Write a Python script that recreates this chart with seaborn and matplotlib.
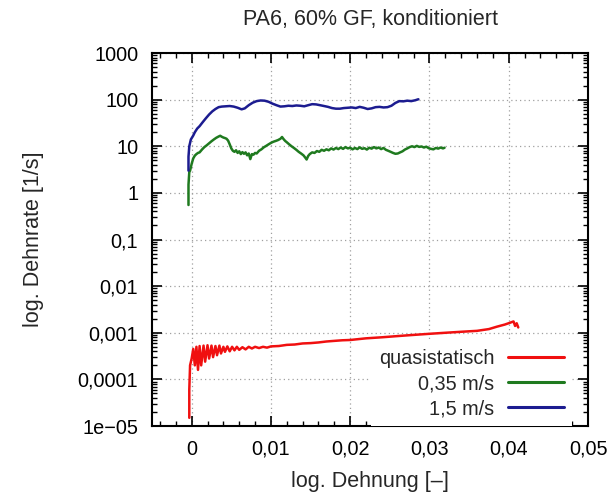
import matplotlib
matplotlib.use("Agg")
import matplotlib.pyplot as plt
from matplotlib.ticker import FixedLocator, FixedFormatter, LogLocator, MultipleLocator, NullFormatter
import seaborn as sns
import pandas as pd

# series (strain, strain rate)
quasi_x = [-0.0003, -0.0003, -0.0002, 0.0000, 0.0002, 0.0004, 0.0006, 0.0008, 0.0010, 0.0012,
           0.0015, 0.0017, 0.0020, 0.0022, 0.0025, 0.0027, 0.0030, 0.0032, 0.0035, 0.0037,
           0.0040, 0.0042, 0.0045, 0.0048, 0.0051, 0.0054, 0.0057, 0.0060, 0.0064, 0.0068,
           0.0072, 0.0076, 0.0080, 0.0085, 0.0090, 0.0095, 0.0100, 0.0110, 0.0120, 0.0130,
           0.0140, 0.0150, 0.0160, 0.0170, 0.0180, 0.0190, 0.0200, 0.0220, 0.0240, 0.0260,
           0.0280, 0.0300, 0.0320, 0.0340, 0.0360, 0.0375, 0.0385, 0.0395, 0.0402, 0.0406,
           0.0408, 0.0410, 0.0412]
quasi_y = [1.5e-5, 6e-5, 2.0e-4, 2.8e-4, 4.5e-4, 2.0e-4, 5.0e-4, 1.6e-4, 5.2e-4, 2.0e-4,
           5.3e-4, 2.4e-4, 5.4e-4, 2.8e-4, 5.3e-4, 3.0e-4, 5.2e-4, 3.3e-4, 5.3e-4, 3.6e-4,
           5.0e-4, 3.9e-4, 5.1e-4, 4.0e-4, 5.0e-4, 4.2e-4, 5.0e-4, 4.3e-4, 4.9e-4, 4.4e-4,
           5.0e-4, 4.6e-4, 5.0e-4, 4.7e-4, 5.0e-4, 4.8e-4, 5.1e-4, 5.2e-4, 5.5e-4, 5.6e-4,
           5.9e-4, 6.0e-4, 6.2e-4, 6.5e-4, 6.7e-4, 6.9e-4, 7.0e-4, 7.6e-4, 8.0e-4, 8.5e-4,
           9.0e-4, 9.5e-4, 1.0e-3, 1.05e-3, 1.1e-3, 1.2e-3, 1.35e-3, 1.5e-3, 1.65e-3, 1.75e-3,
           1.4e-3, 1.6e-3, 1.3e-3]

v035_x = [-0.0004, -0.0004, -0.0003, -0.0002, 0.0000, 0.0002, 0.0004, 0.0006, 0.0008, 0.0010,
          0.0013, 0.0016, 0.0019, 0.0022, 0.0025, 0.0028, 0.0031, 0.0034, 0.0036, 0.0038,
          0.0040, 0.0042, 0.0044, 0.0046, 0.0048, 0.0050, 0.0052, 0.0054, 0.0056, 0.0058,
          0.0060, 0.0062, 0.0064, 0.0066, 0.0068, 0.0070, 0.0072, 0.0074, 0.0076, 0.0078,
          0.0080, 0.0082, 0.0085, 0.0088, 0.0091, 0.0094, 0.0097, 0.0100, 0.0103, 0.0106,
          0.0109, 0.0112, 0.0114, 0.0116, 0.0118, 0.0120, 0.0123, 0.0126, 0.0129, 0.0132,
          0.0135, 0.0138, 0.0141, 0.0143, 0.0145, 0.0147, 0.0149, 0.0152, 0.0155, 0.0158,
          0.0161, 0.0164, 0.0167, 0.0170, 0.0173, 0.0176, 0.0179, 0.0182, 0.0185, 0.0188,
          0.0191, 0.0194, 0.0197, 0.0200, 0.0203, 0.0206, 0.0209, 0.0212, 0.0215, 0.0218,
          0.0221, 0.0224, 0.0227, 0.0230, 0.0233, 0.0236, 0.0239, 0.0242, 0.0245, 0.0248,
          0.0251, 0.0254, 0.0257, 0.0260, 0.0263, 0.0266, 0.0269, 0.0272, 0.0275, 0.0278,
          0.0281, 0.0284, 0.0287, 0.0290, 0.0293, 0.0296, 0.0299, 0.0302, 0.0305, 0.0308,
          0.0311, 0.0314, 0.0317, 0.0319]
v035_y = [0.55, 1.5, 2.8, 3.0, 4.2, 5.5, 6.3, 6.8, 7.2, 7.4,
          8.5, 9.6, 10.5, 11.6, 12.8, 14.0, 15.2, 16.2, 16.8, 16.0,
          15.4, 15.0, 14.5, 13.2, 11.0, 9.0, 8.0, 7.6, 8.2, 7.2,
          7.8, 6.8, 7.5, 6.9, 7.4, 6.4, 7.0, 5.3, 6.8, 6.6,
          7.2, 7.0, 8.0, 8.6, 9.5, 10.2, 11.0, 11.8, 12.5, 13.0,
          13.6, 14.5, 15.8, 14.2, 13.0, 12.2, 11.0, 10.0, 9.2, 8.4,
          7.6, 7.0, 6.4, 5.8, 5.2, 6.2, 6.8, 7.4, 7.2, 7.9,
          7.6, 8.4, 8.0, 8.6, 8.2, 9.0, 8.5, 9.2, 8.7, 9.4,
          8.8, 9.6, 9.0, 9.3, 8.6, 9.2, 8.7, 9.5, 8.8, 9.1,
          8.5, 9.3, 8.9, 9.6, 9.0, 9.4, 8.7, 9.2, 8.4, 8.0,
          7.6, 7.2, 6.9, 7.0, 7.4, 7.8, 8.5, 9.0, 9.6, 10.0,
          9.6, 10.2, 9.7, 9.9, 9.4, 9.8, 9.1, 8.8, 8.6, 9.2,
          8.9, 9.4, 9.0, 9.3]

v15_x = [-0.0004, -0.0004, -0.0003, -0.0001, 0.0002, 0.0004, 0.0007, 0.0010, 0.0014, 0.0018,
         0.0022, 0.0026, 0.0030, 0.0034, 0.0038, 0.0043, 0.0048, 0.0053, 0.0058, 0.0063,
         0.0067, 0.0072, 0.0077, 0.0082, 0.0087, 0.0092, 0.0097, 0.0102, 0.0107, 0.0112,
         0.0117, 0.0122, 0.0127, 0.0132, 0.0137, 0.0142, 0.0147, 0.0152, 0.0157, 0.0162,
         0.0167, 0.0172, 0.0177, 0.0182, 0.0187, 0.0192, 0.0197, 0.0202, 0.0207, 0.0212,
         0.0217, 0.0222, 0.0227, 0.0232, 0.0237, 0.0242, 0.0247, 0.0252, 0.0257, 0.0262,
         0.0267, 0.0272, 0.0277, 0.0282, 0.0286]
v15_y = [3.0, 6.0, 10.0, 14.0, 17.0, 20.0, 24.0, 27.0, 33.0, 40.0,
         48.0, 56.0, 63.0, 69.0, 71.0, 72.0, 73.0, 71.0, 67.0, 62.0,
         65.0, 76.0, 86.0, 93.0, 96.0, 95.0, 90.0, 82.0, 76.0, 71.0,
         72.0, 74.0, 73.0, 75.0, 74.0, 72.0, 76.0, 80.0, 79.0, 76.0,
         73.0, 70.0, 66.0, 64.0, 64.0, 66.0, 67.0, 68.0, 66.0, 70.0,
         67.0, 63.0, 65.0, 69.0, 70.0, 68.0, 69.0, 74.0, 85.0, 93.0,
         92.0, 95.0, 93.0, 97.0, 102.0]

series_names = ["quasistatisch", "0,35 m/s", "1,5 m/s"]
series_colors = ["#f01010", "#1f7a1f", "#1c1c90"]

x_ticks = [0, 0.01, 0.02, 0.03, 0.04, 0.05]
x_labels = ["0", "0,01", "0,02", "0,03", "0,04", "0,05"]
y_ticks = [1e-5, 1e-4, 1e-3, 1e-2, 1e-1, 1, 10, 100, 1000]
y_labels = ["1e\u221205", "0,0001", "0,001", "0,01", "0,1", "1", "10", "100", "1000"]

frames = []
for name, xs, ys in zip(series_names, [quasi_x, v035_x, v15_x], [quasi_y, v035_y, v15_y]):
    frames.append(pd.DataFrame({"strain": xs, "rate": ys, "series": name}))
df = pd.concat(frames, ignore_index=True)

sns.set_style("ticks")
plt.rcParams["font.family"] = ["Liberation Sans", "DejaVu Sans"]
fs_tick = 14.3
fs_label = 15.5

fig = plt.figure(figsize=(6.14, 4.96), dpi=100)
ax = fig.add_axes([0.2476, 0.1411, 0.7101, 0.752])

sns.lineplot(data=df, x="strain", y="rate", hue="series", hue_order=series_names,
             palette=dict(zip(series_names, series_colors)),
             estimator=None, sort=False, linewidth=1.8, ax=ax)

ax.set_yscale("log")
ax.set_xlim(-0.005, 0.05)
ax.set_ylim(1e-5, 1000)

ax.xaxis.set_major_locator(FixedLocator(x_ticks))
ax.xaxis.set_major_formatter(FixedFormatter(x_labels))
ax.xaxis.set_minor_locator(MultipleLocator(0.002))
ax.yaxis.set_major_locator(FixedLocator(y_ticks))
ax.yaxis.set_major_formatter(FixedFormatter(y_labels))
ax.yaxis.set_minor_locator(LogLocator(base=10, subs=range(2, 10), numticks=20))
ax.yaxis.set_minor_formatter(NullFormatter())

ax.tick_params(which="both", direction="in", top=True, right=True, colors="black", labelsize=fs_tick)
ax.tick_params(which="major", length=7, width=1.2, pad=10)
ax.tick_params(which="minor", length=3.5, width=1.0)

ax.grid(True, which="major", color="#a0a0a0", linestyle=(0, (1, 2.5)), linewidth=0.9)
ax.set_axisbelow(True)
for spine in ax.spines.values():
    spine.set_visible(True)
    spine.set_linewidth(1.5)
    spine.set_color("black")

ax.set_title("PA6, 60% GF, konditioniert", fontsize=fs_label, pad=20)
ax.set_xlabel("log. Dehnung [\u2013]", fontsize=fs_label, labelpad=9)
ax.set_ylabel("log. Dehnrate [1/s]", fontsize=fs_label, labelpad=24)

handles, labels = ax.get_legend_handles_labels()
leg = ax.legend(handles, labels, loc="lower right", bbox_to_anchor=(0.963, 0.0),
                markerfirst=False, frameon=True, facecolor="white", edgecolor="none",
                framealpha=1.0, fancybox=False, borderaxespad=0.0, handlelength=2.8,
                handletextpad=0.7, labelspacing=0.3, fontsize=fs_tick, borderpad=0.4)
for line in leg.get_lines():
    line.set_linewidth(2.2)

fig.savefig("out.png", dpi=100)
